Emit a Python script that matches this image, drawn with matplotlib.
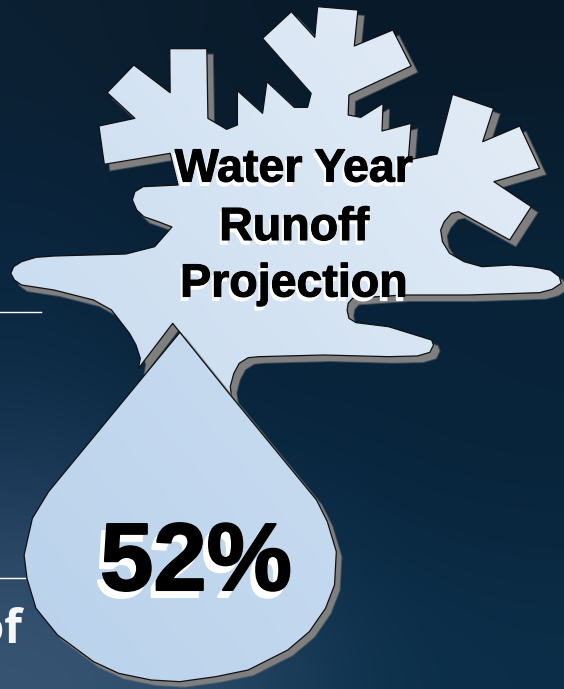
import numpy as np
import matplotlib
matplotlib.use("Agg")
import matplotlib.pyplot as plt
import matplotlib.patheffects as pe
from matplotlib.patches import Polygon
from matplotlib.colors import LinearSegmentedColormap

W, H = 564, 689
title_lines = ["Water Year", "Runoff", "Projection"]
percent_value = 52

# outlines, in crop units (x/2.78, y/3)
flake_outline = [
    (275,378),(375,355),(298,278),(372,195),(473,278),(472,146),(575,146),(578,355),(630,388),(660,375),
    (660,272),(730,340),(742,245),(818,322),(855,322),(865,280),(730,115),(810,35),(875,112),(883,20),
    (995,30),(985,138),(1092,90),(1143,198),(970,285),(968,345),(1003,352),(1065,310),(1062,393),(1143,370),
    (1135,480),(1215,462),(1258,283),(1372,325),(1342,425),(1445,378),(1500,505),(1373,545),(1477,620),(1417,720),
    (1275,635),(1255,640),(1235,665),(1225,690),(1230,725),(1250,760),(1290,785),(1340,800),(1420,795),(1480,800),
    (1530,810),(1555,830),(1560,850),(1535,868),(1500,878),(1300,885),(1120,885),(980,895),(968,910),(965,930),
    (970,955),(990,968),(1080,980),(1200,1020),(1205,1035),(1195,1057),(1160,1068),(1080,1070),(900,1065),(720,1070),
    (690,1073),(665,1090),(650,1120),(640,1160),(644,1190),(480,970),(385,1105),(390,1075),(378,1035),(360,1000),
    (310,930),(260,900),(150,870),(60,855),(40,840),(30,820),(38,800),(60,785),(100,772),(150,768),
    (350,762),(430,740),(478,681),(440,665),(400,650),(380,630),(368,600),(375,575),(398,560),(495,555),
    (473,460),(290,493),
]
drop_outline = [
    (500,997),(644,1190),(880,1500),(910,1565),(935,1655),(930,1755),(905,1825),(860,1895),(800,1950),(690,2010),
    (600,2030),(500,2045),(420,2040),(330,2020),(260,1985),(160,1905),(100,1825),(75,1735),(67,1665),(90,1555),(135,1475),
]

def to_px(pts):
    a = np.array(pts, float)
    return np.column_stack([a[:, 0] / 2.78, a[:, 1] / 3.0])

flake = to_px(flake_outline)
drop = to_px(drop_outline)

fig = plt.figure(figsize=(W / 100, H / 100), dpi=100)
ax = fig.add_axes([0, 0, 1, 1])
ax.set_xlim(0, W)
ax.set_ylim(H, 0)
ax.axis("off")

# background
bg = np.array([
    [[12,32,50],[10,28,44],[8,26,42],[8,26,42]],
    [[10,36,60],[8,32,52],[8,32,52],[8,34,54]],
    [[12,42,68],[8,34,56],[8,36,60],[8,36,58]],
    [[28,58,88],[12,42,68],[8,38,62],[8,36,58]],
    [[56,86,116],[44,76,106],[14,50,78],[12,46,72]],
]) / 255.0
ax.imshow(bg, extent=(0, W, H, 0), interpolation="bicubic", aspect="auto", zorder=0)
ax.set_xlim(0, W)
ax.set_ylim(H, 0)

# white rules and clipped text
ax.plot([0, 41], [312, 312], color="white", lw=1.0, zorder=1)
ax.plot([0, 25], [578, 578], color="white", lw=1.0, zorder=1)
ax.text(22.5, 643, "of", color="#f4f6f8", fontsize=33, fontweight="bold", family="Open Sans",
        ha="right", va="baseline", zorder=1, clip_on=True)

def grad_fill(poly, c0, c1, z):
    cmap = LinearSegmentedColormap.from_list("g", [c0, c1])
    yy, xx = np.mgrid[0:1:64j, 0:1:64j]
    im = ax.imshow((xx + (1 - yy)) / 2, extent=(0, W, H, 0), cmap=cmap, vmin=0, vmax=1,
                   aspect="auto", zorder=z, interpolation="bilinear")
    patch = Polygon(poly, closed=True, transform=ax.transData, fc="none", ec="none")
    ax.add_patch(patch)
    im.set_clip_path(patch)
    ax.add_patch(Polygon(poly, closed=True, fc="none", ec="#101010", lw=0.9, zorder=z + 0.1, joinstyle="round"))

def shadow(poly, off, z):
    ax.add_patch(Polygon(poly + off, closed=True, fc="#7f7f7f", ec="#7f7f7f", lw=1.5, alpha=0.45, zorder=z))
    ax.add_patch(Polygon(poly + off, closed=True, fc="#7f7f7f", ec="none", zorder=z))

shadow(flake, [6, 6], 2)
grad_fill(flake, "#bfd6ee", "#e6eef7", 3)
shadow(drop, [5, 5], 4)
grad_fill(drop, "#b8d1eb", "#d8e6f4", 5)

font = dict(family="Liberation Sans", fontweight="bold", ha="center", va="baseline")

def heavy(text, x, y, size, color, z, stroke):
    ax.text(x, y, text, color=color, fontsize=size, zorder=z,
            path_effects=[pe.withStroke(linewidth=stroke, foreground=color)], **font)

for line, base in zip(title_lines, [181.5, 240, 296.5]):
    heavy(line, 294 - 2, base + 4, 33.5, "white", 6, 0.8)
    heavy(line, 294, base, 33.5, "black", 7, 0.8)

label = f"{percent_value}%"
heavy(label, 196 - 5, 590 + 7, 69, "white", 6, 1.5)
heavy(label, 196, 590, 69, "black", 7, 1.5)

fig.savefig("out.png", dpi=100)
